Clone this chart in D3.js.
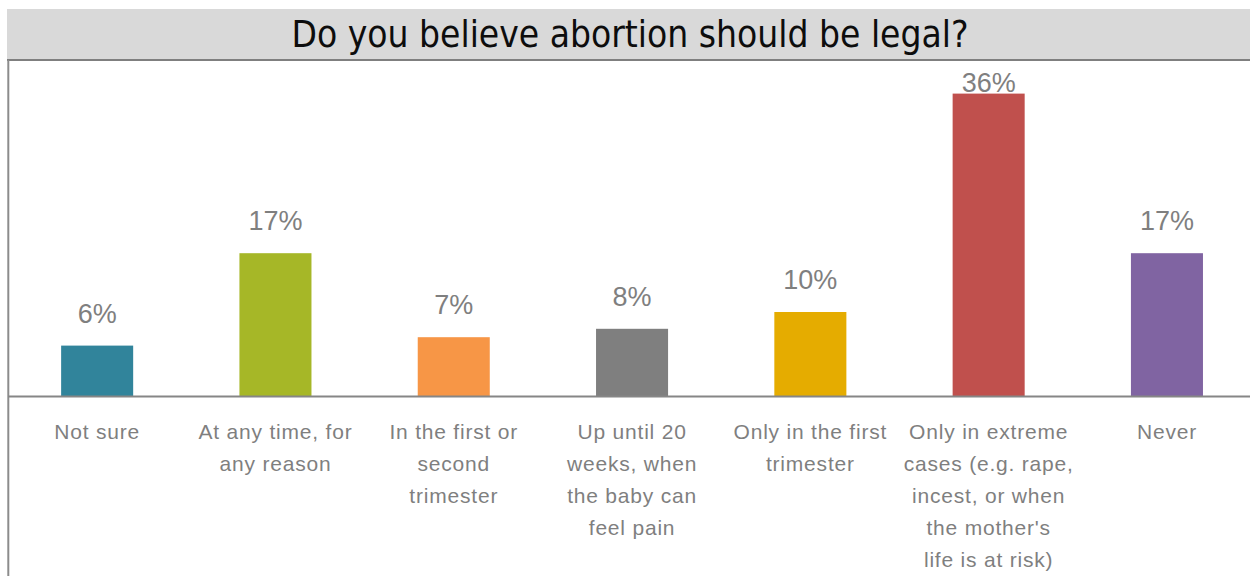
<!DOCTYPE html>
<html>
<head>
<meta charset="utf-8">
<script src="https://cdn.jsdelivr.net/npm/d3@7"></script>
<style>
  body { margin: 0; background: #fff; }
  svg { display: block; }
</style>
</head>
<body>
<svg></svg>
<script>
var svgWidth = 1250, svgHeight = 576;

var categories = ['Not sure', 'At any time, for any reason', 'In the first or second trimester',
  'Up until 20 weeks, when the baby can feel pain', 'Only in the first trimester',
  'Only in extreme cases (e.g. rape, incest, or when the mother\'s life is at risk)', 'Never'];
// wrapped axis labels, as they appear under each bar
var tickLabels = [
  ['Not sure'],
  ['At any time, for', 'any reason'],
  ['In the first or', 'second', 'trimester'],
  ['Up until 20', 'weeks, when', 'the baby can', 'feel pain'],
  ['Only in the first', 'trimester'],
  ['Only in extreme', 'cases (e.g. rape,', 'incest, or when', 'the mother\'s', 'life is at risk)'],
  ['Never']
];
var values = [0.06, 0.17, 0.07, 0.08, 0.10, 0.36, 0.17];
var colors = ['#31849b', '#a6b727', '#f79646', '#7f7f7f', '#e5ac00', '#c0504d', '#8064a2'];

var plotTop = 60, baseY = 396, left = 8;

var svg = d3.select('svg')
    .attr('width', svgWidth)
    .attr('height', svgHeight);

// title band
svg.append('rect')
    .attr('x', 7).attr('y', 9)
    .attr('width', svgWidth - 7).attr('height', 51)
    .attr('fill', '#d9d9d9');

svg.append('text')
    .attr('x', 630).attr('y', 47)
    .attr('text-anchor', 'middle')
    .attr('font-family', 'DejaVu Sans Condensed, DejaVu Sans, sans-serif')
    .attr('font-stretch', 'condensed')
    .attr('font-size', 36.8)
    .attr('fill', '#0d0d0d')
    .text('Do you believe abortion should be legal?');

var x = d3.scaleBand()
    .domain(categories)
    .range([left, left + 7 * 178.3])
    .paddingInner(0.596)
    .paddingOuter(0.298);

var y = d3.scaleLinear()
    .domain([0, 0.4])
    .range([baseY, plotTop]);

var fmt = d3.format('.0%');

svg.selectAll('rect.bar')
    .data(values)
    .enter()
    .append('rect')
    .attr('class', 'bar')
    .attr('x', function(d, i){ return x(categories[i]); })
    .attr('y', function(d){ return y(d); })
    .attr('width', x.bandwidth())
    .attr('height', function(d){ return baseY - y(d); })
    .attr('fill', function(d, i){ return colors[i]; });

svg.selectAll('text.val')
    .data(values)
    .enter()
    .append('text')
    .attr('class', 'val')
    .attr('x', function(d, i){ return x(categories[i]) + x.bandwidth() / 2; })
    .attr('y', function(d){ return Math.max(y(d) - 23, plotTop + 32); })
    .attr('text-anchor', 'middle')
    .attr('font-family', 'Liberation Sans, Arial, sans-serif')
    .attr('font-size', 27)
    .attr('fill', '#7f7f7f')
    .text(function(d){ return fmt(d); });

// frame lines
svg.append('line')
    .attr('x1', 7).attr('x2', svgWidth)
    .attr('y1', 60).attr('y2', 60)
    .attr('stroke', '#7f7f7f').attr('stroke-width', 2);
svg.append('line')
    .attr('x1', 8.3).attr('x2', 8.3)
    .attr('y1', 60).attr('y2', svgHeight)
    .attr('stroke', '#8c8c8c').attr('stroke-width', 2);

// x axis
var xAxis = d3.axisBottom(x).tickSize(0).tickFormat('');
var axisG = svg.append('g')
    .attr('transform', 'translate(0,' + baseY + ')')
    .call(xAxis);
axisG.select('.domain')
    .attr('d', 'M' + left + ',0.5H' + svgWidth)
    .attr('stroke', '#868686')
    .attr('stroke-width', 2);

axisG.selectAll('.tick text').remove();
axisG.selectAll('.tick').each(function(d, i){
  var t = d3.select(this).append('text')
      .attr('text-anchor', 'middle')
      .attr('font-family', 'Liberation Sans, Arial, sans-serif')
      .attr('font-size', 21)
      .attr('letter-spacing', 0.8)
      .attr('fill', '#7f7f7f');
  tickLabels[i].forEach(function(line, j){
    t.append('tspan')
        .attr('x', 0)
        .attr('y', 43 + j * 32)
        .text(line);
  });
});
</script>
</body>
</html>
